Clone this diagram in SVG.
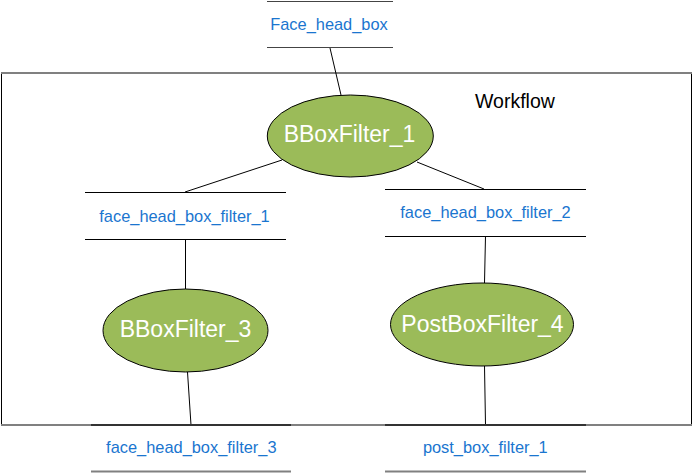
<svg xmlns="http://www.w3.org/2000/svg" width="693" height="473" viewBox="0 0 693 473">
  <style>
    .data line { stroke: #000; stroke-width: 1; }
    .dlabel { font-family: "Liberation Sans", Arial, sans-serif; font-size: 16.4px; fill: #1a75cf; text-anchor: middle; }
    .proc ellipse { fill: #9bbb59; stroke: #000; stroke-width: 1; }
    .plabel { font-family: "Liberation Sans", Arial, sans-serif; font-size: 23px; fill: #ffffff; text-anchor: middle; }
    .conn line { stroke: #000; stroke-width: 1; }
  </style>
  <rect width="693" height="473" fill="#ffffff"/>
  <g id="workflow">
    <line x1="1.5" y1="73" x2="1.5" y2="425" stroke="#000" stroke-width="1"/>
    <line x1="691.5" y1="73" x2="691.5" y2="425" stroke="#000" stroke-width="1"/>
    <line x1="1" y1="73" x2="692" y2="73" stroke="#808080" stroke-width="2"/>
    <line x1="1" y1="425" x2="692" y2="425" stroke="#808080" stroke-width="2"/>
    <text x="475" y="108" font-family="Liberation Sans, Arial, sans-serif" font-size="19.5" fill="#000">Workflow</text>
  </g>
  <g id="connectors" class="conn">
    <line x1="330" y1="48" x2="341" y2="95"/>
    <line x1="282" y1="160" x2="185" y2="192"/>
    <line x1="417" y1="162" x2="484" y2="189"/>
    <line x1="185.5" y1="239" x2="185.5" y2="289"/>
    <line x1="485.5" y1="236" x2="484.5" y2="283"/>
    <line x1="187.5" y1="372" x2="191" y2="425"/>
    <line x1="484.5" y1="366" x2="485.5" y2="425"/>
  </g>
  <g id="Face_head_box" class="data">
    <line x1="267" y1="1.5" x2="393" y2="1.5" style="stroke:#444"/>
    <line x1="267" y1="47.5" x2="393" y2="47.5" style="stroke:#444"/>
    <text class="dlabel" x="329" y="29.5">Face_head_box</text>
  </g>
  <g id="face_head_box_filter_1" class="data">
    <line x1="85" y1="192.5" x2="286" y2="192.5"/>
    <line x1="85" y1="239.5" x2="286" y2="239.5"/>
    <text class="dlabel" x="184.5" y="221.5">face_head_box_filter_1</text>
  </g>
  <g id="face_head_box_filter_2" class="data">
    <line x1="385" y1="189.5" x2="586" y2="189.5"/>
    <line x1="385" y1="236.5" x2="586" y2="236.5"/>
    <text class="dlabel" x="485.5" y="217.5">face_head_box_filter_2</text>
  </g>
  <g id="face_head_box_filter_3" class="data">
    <line x1="91" y1="425" x2="291" y2="425" style="stroke:#333;stroke-width:2"/>
    <line x1="91" y1="471.5" x2="291" y2="471.5" style="stroke:#808080;stroke-width:2"/>
    <text class="dlabel" x="191.3" y="452.5">face_head_box_filter_3</text>
  </g>
  <g id="post_box_filter_1" class="data">
    <line x1="385" y1="425" x2="586" y2="425" style="stroke:#333;stroke-width:2"/>
    <line x1="385" y1="471.5" x2="586" y2="471.5" style="stroke:#808080;stroke-width:2"/>
    <text class="dlabel" x="485.3" y="452.5">post_box_filter_1</text>
  </g>
  <g id="BBoxFilter_1" class="proc">
    <ellipse cx="350.3" cy="136" rx="83" ry="41"/>
    <text class="plabel" x="349.5" y="142.3">BBoxFilter_1</text>
  </g>
  <g id="BBoxFilter_3" class="proc">
    <ellipse cx="185.5" cy="330.5" rx="82.5" ry="41.5"/>
    <text class="plabel" x="185.5" y="337.3">BBoxFilter_3</text>
  </g>
  <g id="PostBoxFilter_4" class="proc">
    <ellipse cx="482" cy="324.5" rx="91.5" ry="41.5"/>
    <text class="plabel" x="482.5" y="331.7">PostBoxFilter_4</text>
  </g>
</svg>
